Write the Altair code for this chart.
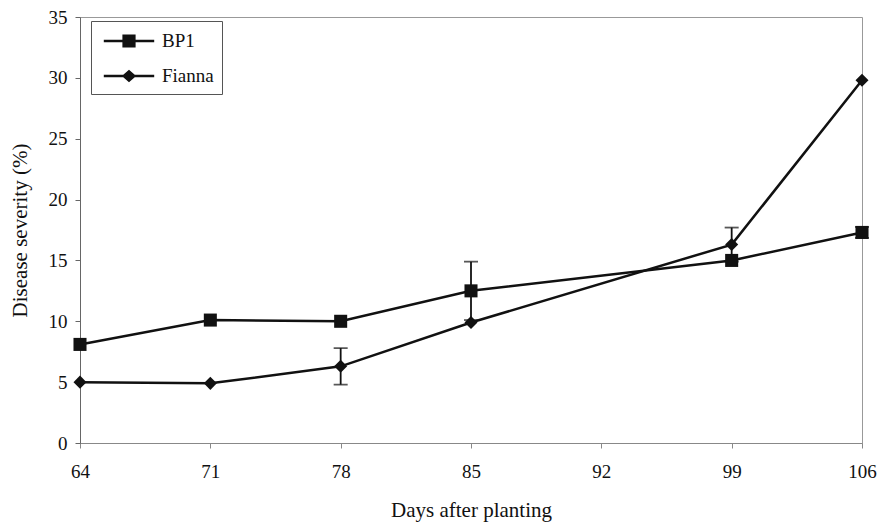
import altair as alt
import pandas as pd

# ---- data ----
days = [64, 71, 78, 85, 99, 106]
series_names = ["BP1", "Fianna"]
bp1_values = [8.1, 10.1, 10.0, 12.5, 15.0, 17.3]
fianna_values = [5.0, 4.9, 6.3, 9.9, 16.3, 29.8]
bp1_err = [None, None, None, 2.4, None, 0.45]
fianna_err = [None, None, 1.5, None, 1.4, None]
x_ticks = [64, 71, 78, 85, 92, 99, 106]
y_ticks = [0, 5, 10, 15, 20, 25, 30, 35]

rows = []
for name, vals, errs in [("BP1", bp1_values, bp1_err), ("Fianna", fianna_values, fianna_err)]:
    for d, v, e in zip(days, vals, errs):
        rows.append({
            "day": d, "value": v, "series": name,
            "lo": (v - e) if e is not None else None,
            "hi": (v + e) if e is not None else None,
        })
df = pd.DataFrame(rows)
err_df = df.dropna(subset=["lo"])

FONT = "Liberation Serif"
INK = "#111111"

xscale = alt.Scale(domain=[64, 106], nice=False, zero=False)
yscale = alt.Scale(domain=[0, 35], nice=False)
xaxis = alt.Axis(values=x_ticks, title="Days after planting", grid=False,
                 labelFont=FONT, labelFontSize=19, labelColor=INK, labelPadding=14,
                 titleFont=FONT, titleFontSize=21, titleFontWeight="normal", titleColor=INK,
                 titleX=391, titleY=67, titleBaseline="middle",
                 domainColor="#888888", tickColor="#888888", tickSize=5, labelFlush=False)
yaxis = alt.Axis(values=y_ticks, title="Disease severity (%)", grid=False,
                 labelFont=FONT, labelFontSize=19, labelColor=INK, labelPadding=8,
                 titleFont=FONT, titleFontSize=21, titleFontWeight="normal", titleColor=INK,
                 titleX=-60, titleY=213, titleBaseline="middle", titleAngle=-90, titleAlign="center",
                 domainColor="#666666", tickColor="#666666", tickSize=5)

def X(field):
    return alt.X(field, type="quantitative", scale=xscale, axis=xaxis)

def Y(field):
    return alt.Y(field, type="quantitative", scale=yscale, axis=yaxis)

lines = alt.Chart(df).mark_line(color=INK, strokeWidth=2.5).encode(
    x=X("day"), y=Y("value"), detail="series:N")

err_rules = alt.Chart(err_df).mark_rule(color=INK, strokeWidth=1.8).encode(
    x=X("day"), y=Y("lo"), y2="hi:Q")
cap_hi = alt.Chart(err_df).mark_tick(color=INK, orient="horizontal", size=14, thickness=1.8).encode(
    x=X("day"), y=Y("hi"))
cap_lo = alt.Chart(err_df).mark_tick(color=INK, orient="horizontal", size=14, thickness=1.8).encode(
    x=X("day"), y=Y("lo"))

points = alt.Chart(df).mark_point(filled=True, color=INK, opacity=1, size=170).encode(
    x=X("day"), y=Y("value"),
    shape=alt.Shape("series:N", scale=alt.Scale(domain=series_names, range=["square", "diamond"]), legend=None))

# legend symbols: filled line segment with marker (custom SVG paths)
sq_path = "M-2.1,-0.1H2.1V0.1H-2.1ZM-0.55,-0.55H0.55V0.55H-0.55Z"
di_path = "M-2.1,-0.1H2.1V0.1H-2.1ZM0,-0.52L0.6,0L0,0.52L-0.6,0Z"
legend_layer = alt.Chart(df).mark_point(filled=True, color=INK, opacity=0, size=1).encode(
    x=X("day"), y=Y("value"),
    shape=alt.Shape("series:N",
                    scale=alt.Scale(domain=series_names, range=[sq_path, di_path]),
                    legend=alt.Legend(title=None, orient="none", legendX=11, legendY=4,
                                      symbolSize=576, symbolStrokeWidth=0,
                                      symbolFillColor=INK,
                                      symbolOffset=18, labelOffset=21,
                                      labelFont=FONT, labelFontSize=19, labelColor=INK,
                                      rowPadding=13, padding=8,
                                      strokeColor="#555555", fillColor="white")))

chart = alt.layer(lines, err_rules, cap_hi, cap_lo, points, legend_layer).resolve_scale(
    shape="independent"
).properties(
    width=782, height=426,
    autosize=alt.AutoSizeParams(type="none"),
    padding={"left": 80, "top": 17, "right": 18, "bottom": 83},
    background="white",
).configure_view(stroke="#999999", strokeWidth=1)

chart.save("out.html", embed_options={"renderer": "svg", "actions": False})
